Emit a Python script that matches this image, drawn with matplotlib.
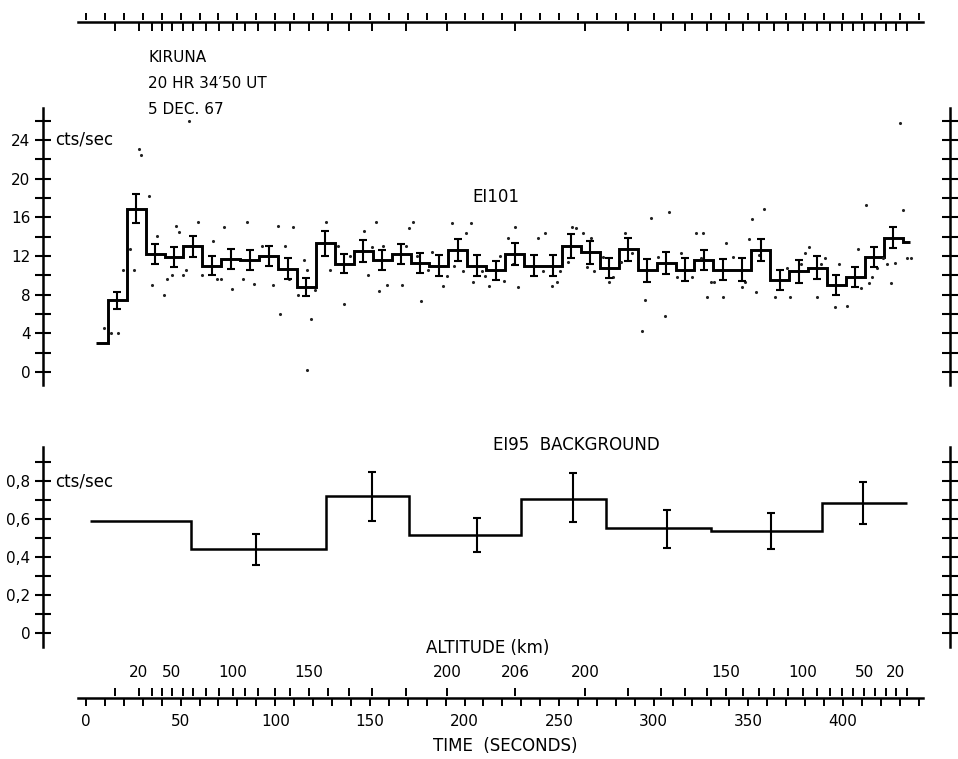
import matplotlib
matplotlib.use("Agg")
import matplotlib.pyplot as plt
import numpy as np

plt.rcParams['font.family'] = ['DejaVu Sans']

# ---------------- data ----------------
# EI101 counting rate, 10 s bins (first and last bins partial, no error bar)
top_edges = [5.5, 11.5] + list(np.arange(21.5, 432, 10)) + [435.5]
top_values = [3.0, 7.4, 16.9, 12.2, 11.9, 13.0, 11.0, 11.7, 11.6, 12.0, 10.7,
              8.8, 13.3, 11.2, 12.5, 11.6, 12.2, 11.3, 11.0, 12.6, 11.0, 10.5,
              12.2, 11.0, 11.0, 13.0, 12.4, 10.8, 12.7, 10.5, 11.3, 10.6, 11.6,
              10.6, 10.6, 12.6, 9.5, 10.4, 10.8, 9.0, 9.8, 11.9, 13.9, 13.4]
top_err_t = list(np.arange(16.5, 427, 10))
top_err_v = top_values[1:-1]
top_err = [0.9, 1.5, 1.05, 1.03, 1.1, 1.0, 1.03, 1.03, 1.07, 1.08, 0.95,
           1.25, 0.98, 1.17, 1.07, 1.05, 1.03, 1.1, 1.12, 1.07, 1.0, 1.12,
           1.12, 1.1, 1.24, 1.2, 1.03, 1.2, 1.15, 1.15, 1.15, 1.07, 1.12,
           1.15, 1.15, 1.03, 1.15, 1.17, 1.08, 1.03, 1.08, 1.08]

# individual samples (dots)
dot_t = [28.2, 29.3, 33.5, 23.2, 19.4, 25.5, 9.5, 13.0, 17.1, 37.3, 35.0, 41.2,
         47.6, 49.3, 45.3, 43.0, 59.0, 52.8, 51.1, 67.3, 61.3, 69.0, 71.2, 73.1,
         77.3, 84.9, 82.8, 88.9, 93.2, 98.6, 101.3, 109.2, 105.2, 102.5, 107.4,
         112.2, 116.9, 115.2, 121.0, 118.9, 116.6, 126.8, 128.9, 133.0, 136.5,
         139.5, 147.0, 148.8, 151.0, 153.2, 154.7, 158.9, 156.8, 166.8, 169.1,
         170.8, 173.0, 176.8, 175.0, 180.5, 182.6, 188.8, 190.6, 193.2, 194.6,
         200.6, 203.3, 199.0, 204.7, 209.0, 210.8, 213.1, 220.9, 218.8, 223.2,
         226.7, 228.4, 225.4, 238.7, 242.5, 241.3, 246.4, 248.7, 250.5, 256.6,
         258.7, 254.9, 262.4, 266.8, 264.9, 268.4, 273.0, 276.5, 278.6, 284.8,
         282.5, 288.3, 295.4, 294.0, 298.5, 308.2, 302.4, 305.9, 312.1, 314.4,
         320.0, 322.3, 326.2, 324.8, 330.2, 332.0, 327.9, 338.2, 336.4, 342.0,
         346.5, 348.2, 350.5, 352.1, 358.4, 354.0, 355.8, 364.1, 370.2, 372.0,
         377.6, 379.9, 382.2, 386.4, 388.2, 390.5, 395.8, 401.9, 397.9, 408.1,
         409.3, 412.0, 413.7, 415.5, 417.8, 421.3, 423.4, 425.2, 427.5, 431.5,
         433.6, 435.8, 430.1, 54.6]
dot_v = [23.1, 22.4, 18.2, 12.7, 10.55, 10.55, 4.5, 4.0, 4.0, 14.1, 9.0, 8.0,
         15.1, 14.5, 10.0, 9.6, 15.55, 10.55, 10.0, 13.6, 10.0, 9.6, 9.6, 15.0,
         8.55, 15.55, 9.6, 9.1, 13.0, 9.0, 15.1, 15.0, 13.0, 6.0, 9.6,
         8.0, 10.5, 11.6, 8.5, 5.5, 0.2, 15.55, 10.55, 13.0, 7.0,
         12.0, 14.6, 10.0, 12.9, 15.55, 8.4, 9.0, 13.0, 9.0, 13.0,
         14.9, 15.55, 7.3, 12.0, 10.55, 12.45, 8.9, 9.9, 15.45, 11.0,
         14.4, 15.4, 10.4, 9.35, 10.4, 9.9, 8.9, 9.4, 12.0, 13.9,
         15.0, 8.8, 11.2, 13.9, 14.4, 10.4, 8.9, 9.35, 10.4, 15.0,
         14.9, 11.4, 14.4, 13.9, 10.9, 10.4, 11.9, 9.35, 9.85, 14.4,
         11.4, 12.35, 7.45, 4.2, 15.9, 16.5, 11.9, 5.8, 9.85, 12.35,
         9.85, 14.4, 14.4, 11.75, 9.35, 9.35, 7.8, 13.3, 7.8, 11.9,
         8.8, 9.3, 13.8, 15.8, 16.9, 8.25, 12.1, 7.8, 10.8, 7.8,
         11.2, 12.35, 12.9, 7.8, 11.2, 11.75, 6.75, 6.8, 11.2, 12.7,
         8.65, 17.3, 9.25, 9.8, 10.8, 11.75, 11.2, 9.2, 11.25, 16.75,
         11.75, 11.75, 25.8, 26.0]

# EI95 background
bg_edges = [2.0, 55.5, 126.8, 170.7, 230.0, 275.0, 330.0, 389.0, 434.0]
bg_values = [0.59, 0.44, 0.72, 0.515, 0.705, 0.555, 0.535, 0.685]
bg_err_t = [89.6, 151.0, 206.6, 257.5, 307.0, 362.0, 410.6]
bg_err_v = [0.44, 0.718, 0.515, 0.712, 0.55, 0.537, 0.685]
bg_err = [0.08, 0.13, 0.09, 0.128, 0.10, 0.097, 0.11]

# time axis and altitude scale
time_ticks = list(range(0, 441, 10))
time_labels = [str(t) if t % 50 == 0 and t <= 400 else '' for t in time_ticks]
alt_tick_t = [15.3, 28.0, 34.9, 40.2, 45.4, 51.3, 56.5, 63.4, 70.3, 77.7, 84.0,
              90.9, 99.9, 107.8, 117.8, 127.9, 139.0, 151.1, 169.1, 190.8, 226.7,
              263.7, 286.4, 303.8, 316.5, 328.1, 338.2, 347.2, 355.6, 363.6,
              370.9, 378.8, 386.3, 393.1, 399.5, 405.3, 411.1, 416.9, 422.7,
              428.0, 433.8]
alt_tick_km = [10, 20, 30, 40, 50, 60, 70, 80, 90, 100, 110, 120, 130, 140, 150,
               160, 170, 180, 190, 200, 206, 200, 190, 180, 170, 160, 150, 140,
               130, 120, 110, 100, 90, 80, 70, 60, 50, 40, 30, 20, 10]
alt_labelled = [20, 50, 100, 150, 200, 206]

top_yticks = list(range(0, 27, 2))
bg_yticks = [round(0.1 * i, 1) for i in range(10)]

# ---------------- layout helpers ----------------
W, H = 958, 759
fig = plt.figure(figsize=(W / 100, H / 100), dpi=100)


def box(x0, y0, x1, y1):
    return [x0 / W, 1 - y1 / H, (x1 - x0) / W, (y1 - y0) / H]


def px2t(x):
    return (x - 86) / 1.8925


def ftext(x, y, s, **kw):
    fig.text(x / W, 1 - y / H, s, **kw)


LW = 1.8
XL = (px2t(43), px2t(950))

# ---------------- top panel ----------------
ax1 = fig.add_axes(box(43, 108, 950, 385))
ax1.set_xlim(*XL)
ax1.set_ylim((372 - 385) / 9.667, (372 - 108) / 9.667)
ax1.stairs(top_values, top_edges, color='black', lw=2.1, baseline=None)
ax1.errorbar(top_err_t, top_err_v, yerr=top_err, fmt='none', ecolor='black',
             elinewidth=1.5, capsize=3, capthick=1.5)
ax1.scatter(dot_t, dot_v, s=5, color='#222222', linewidths=0)

# ---------------- bottom panel ----------------
ax2 = fig.add_axes(box(43, 447, 950, 647))
ax2.set_xlim(*XL)
ax2.set_ylim((633 - 647) / 190, (633 - 447) / 190)
ax2.stairs(bg_values, bg_edges, color='black', lw=1.8, baseline=None)
ax2.errorbar(bg_err_t, bg_err_v, yerr=bg_err, fmt='none', ecolor='black',
             elinewidth=1.5, capsize=3, capthick=1.5)

for ax, ticks, labfun in ((ax1, top_yticks, lambda v: str(v) if v % 4 == 0 else ''),
                          (ax2, bg_yticks,
                           lambda v: ('0' if v == 0 else ('%.1f' % v).replace('.', ','))
                           if round(v * 10) % 2 == 0 and v < 0.85 else '')):
    for s in ('top', 'bottom'):
        ax.spines[s].set_visible(False)
    for s in ('left', 'right'):
        ax.spines[s].set_linewidth(LW)
    ax.set_yticks(ticks, labels=[labfun(v) for v in ticks])
    ax.tick_params(axis='y', which='both', direction='inout', length=12, width=1.5,
                   left=True, right=True, labelleft=True, labelright=False,
                   labelsize=11, pad=3)
    ax.set_xticks([])
    ax.patch.set_alpha(0)

ax1.text(-16.5, 24, 'cts/sec', fontsize=12, va='center', ha='left')
ax2.text(-16.5, 0.8, 'cts/sec', fontsize=12, va='center', ha='left')
ftext(496, 197, 'EI101', fontsize=12, ha='center', va='center')
ftext(576, 445, 'EI95  BACKGROUND', fontsize=12, ha='center', va='center')

# ---------------- time / altitude axes ----------------
alt_labels = [str(k) if k in alt_labelled else '' for k in alt_tick_km]


def scale_axis(ypix, labels):
    ax = fig.add_axes(box(78, ypix - 0.5, 923, ypix + 0.5))
    ax.set_xlim(px2t(78), px2t(923))
    ax.set_ylim(0, 1)
    for s in ('top', 'left', 'right'):
        ax.spines[s].set_visible(False)
    ax.spines['bottom'].set_linewidth(LW)
    ax.set_yticks([])
    ax.patch.set_alpha(0)
    sec = ax.secondary_xaxis('top')
    sec.spines['top'].set_visible(False)
    if labels:
        ax.set_xticks(time_ticks, labels=time_labels)
        ax.tick_params(axis='x', direction='out', length=6, width=1.4,
                       labelsize=11, pad=6)
        sec.set_xticks(alt_tick_t, labels=alt_labels)
        sec.tick_params(axis='x', direction='out', length=6, width=1.4,
                        labelsize=11, pad=6)
    else:
        # mirrored: time ticks upward, altitude ticks downward
        ax.set_xticks(alt_tick_t, labels=[''] * len(alt_tick_t))
        ax.tick_params(axis='x', direction='out', length=6.5, width=1.4)
        sec.set_xticks(time_ticks, labels=[''] * len(time_ticks))
        sec.tick_params(axis='x', direction='out', length=5, width=1.4)
    return ax


scale_axis(697, True)
scale_axis(21, False)

ftext(488, 648, 'ALTITUDE (km)', fontsize=12, ha='center', va='center')
ftext(505, 746, 'TIME  (SECONDS)', fontsize=12, ha='center', va='center')

ftext(148, 58, 'KIRUNA', fontsize=11, ha='left', va='center')
ftext(148, 84, '20 HR 34\u203250 UT', fontsize=11, ha='left', va='center')
ftext(148, 109, '5 DEC. 67', fontsize=11, ha='left', va='center')

fig.savefig('out.png', dpi=100, facecolor='white')
